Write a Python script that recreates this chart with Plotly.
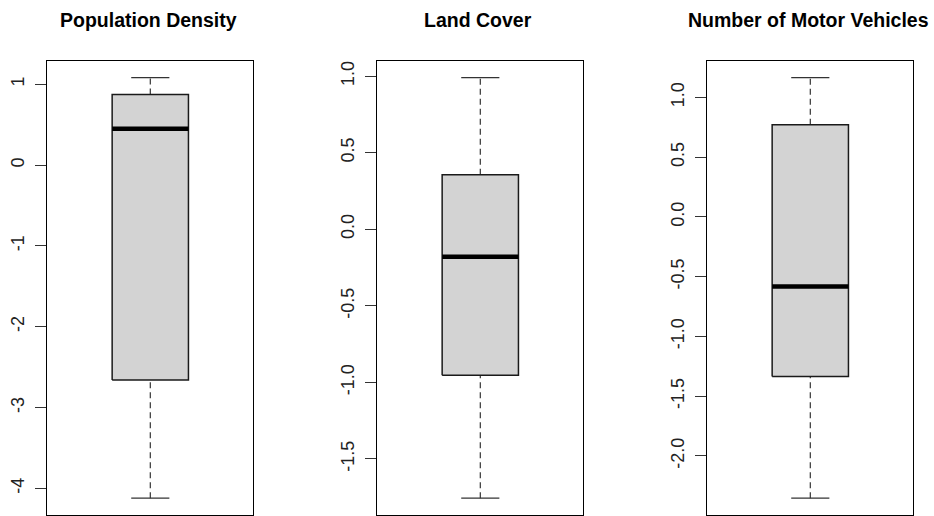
import plotly.graph_objects as go

titles = ["Population Density", "Land Cover", "Number of Motor Vehicles"]
lower_whisker = [-4.12, -1.756, -2.353]
q1 = [-2.658, -0.954, -1.334]
median = [0.448, -0.179, -0.582]
q3 = [0.873, 0.356, 0.771]
upper_whisker = [1.083, 0.991, 1.167]
tick_vals = [
    [-4, -3, -2, -1, 0, 1],
    [-1.5, -1.0, -0.5, 0.0, 0.5, 1.0],
    [-2.0, -1.5, -1.0, -0.5, 0.0, 0.5, 1.0],
]
tick_text = [
    ["-4", "-3", "-2", "-1", "0", "1"],
    ["-1.5", "-1.0", "-0.5", "0.0", "0.5", "1.0"],
    ["-2.0", "-1.5", "-1.0", "-0.5", "0.0", "0.5", "1.0"],
]

W, H = 934, 516
x_px = [(47.3, 253.3), (377.3, 583.3), (707.3, 913.3)]
y_top, y_bot = 60.7, 515.0

fig = go.Figure()
FONT = "Liberation Sans, Arial, sans-serif"

for i in range(3):
    n = "" if i == 0 else str(i + 1)
    xa, ya = "x" + n, "y" + n
    lo, hi = lower_whisker[i], upper_whisker[i]
    span = hi - lo
    yr = [lo - 0.04 * span, hi + 0.04 * span]
    # whiskers (dashed)
    for a, b in [(lo, q1[i]), (q3[i], hi)]:
        fig.add_trace(go.Scatter(x=[1, 1], y=[a, b], mode="lines", xaxis=xa, yaxis=ya,
                                 line=dict(color="#333333", width=1.2, dash="6px,4px"),
                                 showlegend=False, hoverinfo="skip"))
    # caps
    for v in [lo, hi]:
        fig.add_trace(go.Scatter(x=[0.9, 1.1], y=[v, v], mode="lines", xaxis=xa, yaxis=ya,
                                 line=dict(color="#333333", width=1.2),
                                 showlegend=False, hoverinfo="skip"))
    # box
    fig.add_trace(go.Scatter(x=[0.8, 1.2, 1.2, 0.8, 0.8], y=[q1[i], q1[i], q3[i], q3[i], q1[i]],
                             mode="lines", fill="toself", fillcolor="#D3D3D3",
                             line=dict(color="#1a1a1a", width=1.5), xaxis=xa, yaxis=ya,
                             showlegend=False, hoverinfo="skip"))
    # median
    fig.add_trace(go.Scatter(x=[0.8, 1.2], y=[median[i], median[i]], mode="lines", xaxis=xa, yaxis=ya,
                             line=dict(color="black", width=4.5),
                             showlegend=False, hoverinfo="skip"))

    x0, x1 = x_px[i]
    fig.layout["xaxis" + n] = dict(
        domain=[x0 / W, x1 / W], range=[0.46, 1.54], showgrid=False, zeroline=False,
        showticklabels=False, ticks="", showline=True, linecolor="black", linewidth=1,
        mirror=True, anchor=ya, fixedrange=True)
    fig.layout["yaxis" + n] = dict(
        domain=[(H - y_bot) / H, (H - y_top) / H], range=yr, showgrid=False, zeroline=False,
        tickvals=tick_vals[i], ticktext=tick_text[i], tickangle=-90,
        ticks="outside", ticklen=11, tickcolor="#333333", tickwidth=1,
        tickfont=dict(family=FONT, size=18, color="#222222"), ticklabelstandoff=4,
        showline=True, linecolor="black", linewidth=1, mirror=True, anchor=xa,
        fixedrange=True)
    fig.add_annotation(text="<b>%s</b>" % titles[i], x=((x0 + x1) / 2 - 2) / W,
                       y=(H - 20.5) / H,
                       xref="paper", yref="paper", showarrow=False, xanchor="center", yanchor="middle",
                       font=dict(family=FONT, size=19.5, color="black"))

fig.update_layout(width=W, height=H, margin=dict(l=0, r=0, t=0, b=0),
                  plot_bgcolor="white", paper_bgcolor="white", hovermode=False)
fig.write_html("out.html", config={"displayModeBar": False},
               post_script="document.body.style.margin='0';document.body.style.overflow='hidden';")
